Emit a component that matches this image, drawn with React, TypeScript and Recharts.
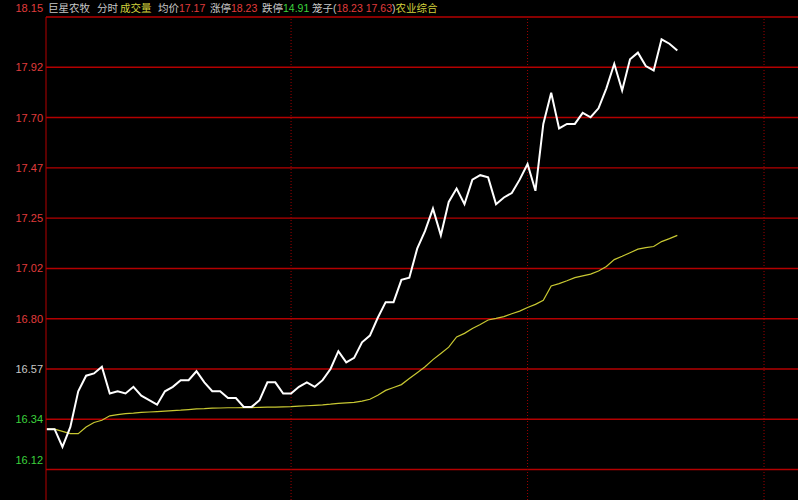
import React from 'react';
import { LineChart, Line, XAxis, YAxis, ReferenceLine } from 'recharts';

// 巨星农牧 intraday (分时) — price and running average, one point per step
const PRICE = [
  16.30, 16.30, 16.22, 16.31, 16.47, 16.54, 16.55, 16.58, 16.46, 16.47,
  16.46, 16.49, 16.45, 16.43, 16.41, 16.47, 16.49, 16.52, 16.52, 16.56,
  16.51, 16.47, 16.47, 16.44, 16.44, 16.40, 16.40, 16.43, 16.51, 16.51,
  16.46, 16.46, 16.49, 16.51, 16.49, 16.52, 16.57, 16.65, 16.60, 16.62,
  16.69, 16.72, 16.80, 16.87, 16.87, 16.97, 16.98, 17.11, 17.19, 17.29,
  17.17, 17.32, 17.38, 17.31, 17.42, 17.44, 17.43, 17.31, 17.34, 17.36,
  17.42, 17.49, 17.37, 17.67, 17.81, 17.65, 17.67, 17.67, 17.72, 17.70,
  17.74, 17.83, 17.94, 17.82, 17.96, 17.99, 17.93, 17.91, 18.05, 18.03,
  18.00,
];

const AVG = [
  16.300, 16.300, 16.290, 16.280, 16.280, 16.310, 16.330, 16.340, 16.360, 16.365,
  16.370, 16.372, 16.375, 16.377, 16.379, 16.381, 16.383, 16.385, 16.388, 16.391,
  16.392, 16.394, 16.395, 16.396, 16.396, 16.397, 16.397, 16.398, 16.399, 16.399,
  16.400, 16.401, 16.403, 16.405, 16.407, 16.409, 16.412, 16.416, 16.418, 16.420,
  16.426, 16.434, 16.452, 16.474, 16.487, 16.500, 16.527, 16.553, 16.580, 16.612,
  16.640, 16.668, 16.714, 16.730, 16.752, 16.770, 16.790, 16.797, 16.805, 16.818,
  16.830, 16.846, 16.860, 16.878, 16.943, 16.953, 16.966, 16.980, 16.988, 16.996,
  17.010, 17.030, 17.061, 17.076, 17.092, 17.108, 17.115, 17.120, 17.142, 17.155,
  17.170,
];

// price grid, prev close 16.57 in the middle
const PRICE_TICKS = [16.1186, 16.3443, 16.57, 16.7957, 17.0214, 17.2471, 17.4729, 17.6986, 17.9243, 18.15];
const PREV_CLOSE = 16.57;
const HOUR_MARKS = [31, 61, 91];

const RED = '#e03c3c';
const GREEN = '#3cd23c';
const GREY = '#c8c8c8';
const YELLOW = '#d2d23c';
const GRID = '#b40000';
const FONT = '"Liberation Sans", Arial, "Noto Sans CJK SC", sans-serif';

const data = PRICE.map((p, i) => ({ i, price: p, avg: AVG[i] }));

const PriceTick = (props: any) => {
  const { y, payload, index } = props;
  const v = payload.value as number;
  let color = GREY;
  if (v > PREV_CLOSE + 0.001) color = RED;
  if (v < PREV_CLOSE - 0.001) color = GREEN;
  let dy = 4;
  if (index === 0) dy = -6;
  if (index === PRICE_TICKS.length - 1) dy = -5;
  return (
    <text x={43} y={y + dy} textAnchor="end" fill={color} fontSize={11} fontFamily={FONT}>
      {v.toFixed(2)}
    </text>
  );
};

// header groups: each starts at a left position, pieces flow inline
const header: { left: number; parts: [string, string][] }[] = [
  { left: 48, parts: [['巨星农牧', GREY]] },
  { left: 97, parts: [['分时', GREY]] },
  { left: 120, parts: [['成交量', YELLOW]] },
  { left: 158, parts: [['均价', GREY], ['17.17', RED]] },
  { left: 210, parts: [['涨停', GREY], ['18.23', RED]] },
  { left: 262, parts: [['跌停', GREY], ['14.91', GREEN]] },
  { left: 312, parts: [['笼子(', GREY], ['18.23 17.63', RED], [')', GREY], ['农业综合', YELLOW]] },
];

export default function App() {
  return (
    <div style={{ position: 'absolute', left: 0, top: 0, width: 798, height: 500, background: '#000', overflow: 'hidden' }}>
      <LineChart width={798} height={500} data={data} margin={{ top: 17, right: 0, bottom: 0, left: 0 }}>
        <XAxis dataKey="i" type="number" domain={[-0.09, 95.31]} hide allowDataOverflow />
        <YAxis
          domain={[15.982, 18.15]}
          ticks={PRICE_TICKS}
          interval={0}
          width={46}
          allowDataOverflow
          tickLine={false}
          axisLine={{ stroke: GRID }}
          tick={<PriceTick />}
        />
        {PRICE_TICKS.map((t) => (
          <ReferenceLine key={t} y={t} stroke={GRID} strokeWidth={1.4} />
        ))}
        {HOUR_MARKS.map((m) => (
          <ReferenceLine key={m} x={m} stroke="#a00000" strokeDasharray="1 2" />
        ))}
        <Line dataKey="avg" stroke="#c8c832" strokeWidth={1.2} dot={false} isAnimationActive={false} />
        <Line dataKey="price" stroke="#ffffff" strokeWidth={2} dot={false} isAnimationActive={false} />
      </LineChart>
      {header.map((g) => (
        <div
          key={g.left}
          style={{ position: 'absolute', left: g.left, top: 1, fontSize: 10.5, lineHeight: '14px', fontFamily: FONT, whiteSpace: 'pre' }}
        >
          {g.parts.map(([txt, color], k) => (
            <span key={k} style={{ color }}>{txt}</span>
          ))}
        </div>
      ))}
    </div>
  );
}
